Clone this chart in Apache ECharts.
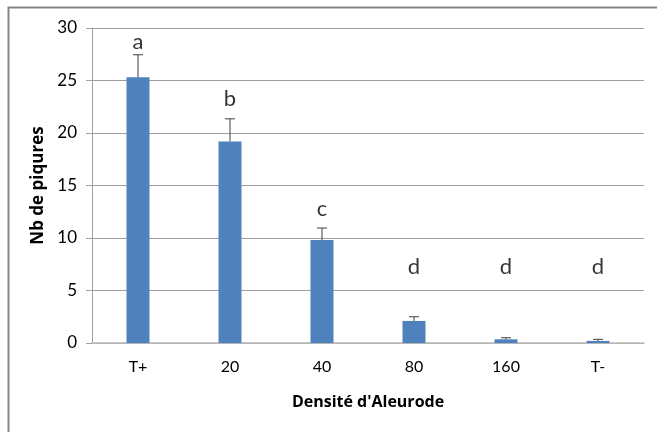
<!DOCTYPE html>
<html>
<head>
<meta charset="utf-8">
<script src="https://cdn.jsdelivr.net/npm/echarts@6/dist/echarts.min.js"></script>
<style>
  html, body { margin: 0; padding: 0; background: #fff; }
  #chart { width: 657px; height: 432px; }
</style>
</head>
<body>
<div id="chart"></div>
<script>
const categories = ['T+', '20', '40', '80', '160', 'T-'];
const meanValues = [25.3, 19.2, 9.8, 2.1, 0.35, 0.2];
const errValues = [2.15, 2.15, 1.15, 0.4, 0.15, 0.15];
const letters = ['a', 'b', 'c', 'd', 'd', 'd'];
const letterPos = [28.7, 23.2, 12.8, 7.2, 7.2, 7.2];
const yTicks = [0, 5, 10, 15, 20, 25, 30];

const chart = echarts.init(document.getElementById('chart'));

const fontFamily = 'Lato, "Open Sans", sans-serif';
const titleFont = '"Open Sans", Lato, sans-serif';

const option = {
  backgroundColor: '#fff',
  animation: false,
  graphic: [{
    type: 'rect',
    left: 6,
    top: 5,
    shape: { width: 720, height: 500 },
    style: { fill: 'none', stroke: '#878787', lineWidth: 2 }
  }],
  grid: {
    left: 92,
    right: 13,
    top: 28,
    bottom: 89
  },
  xAxis: {
    type: 'category',
    data: categories,
    name: "Densité d'Aleurode",
    nameLocation: 'middle',
    nameGap: 51,
    nameTextStyle: { fontFamily: titleFont, fontSize: 16, fontWeight: 'bold', color: '#000' },
    axisLine: { lineStyle: { color: '#bcbcbc', width: 1.5 } },
    axisTick: { show: false },
    axisLabel: { fontFamily, fontSize: 16, color: '#000', margin: 16 }
  },
  yAxis: {
    type: 'value',
    min: 0,
    max: yTicks[yTicks.length - 1],
    interval: 5,
    name: 'Nb de piqures',
    nameLocation: 'middle',
    nameGap: 45,
    nameTextStyle: { fontFamily: titleFont, fontSize: 17, fontWeight: 'bold', color: '#000' },
    axisLine: { show: true, lineStyle: { color: '#a0a0a0' } },
    axisTick: { show: true, length: 6, lineStyle: { color: '#a0a0a0' } },
    axisLabel: { fontFamily, fontSize: 17, color: '#000', margin: 15 },
    splitLine: { lineStyle: { color: '#a0a0a0' } }
  },
  series: [
    {
      type: 'bar',
      data: meanValues,
      barWidth: 23,
      itemStyle: { color: '#4f81bd' },
      z: 2
    },
    {
      type: 'custom',
      z: 3,
      data: meanValues.map((v, i) => [i, v, errValues[i]]),
      renderItem: function (params, api) {
        const x = api.value(0);
        const top = api.coord([x, api.value(1) + api.value(2)]);
        const base = api.coord([x, api.value(1)]);
        const hw = 5;
        return {
          type: 'group',
          children: [
            { type: 'line', shape: { x1: top[0], y1: top[1], x2: base[0], y2: base[1] },
              style: { stroke: '#404040', lineWidth: 1 } },
            { type: 'line', shape: { x1: top[0] - hw, y1: top[1], x2: top[0] + hw, y2: top[1] },
              style: { stroke: '#404040', lineWidth: 1 } }
          ]
        };
      }
    },
    {
      type: 'scatter',
      symbolSize: 0,
      data: letterPos.map((v, i) => [i, v]),
      label: {
        show: true,
        position: 'inside',
        formatter: p => letters[p.dataIndex],
        fontFamily,
        fontSize: 22,
        color: '#000'
      },
      z: 4
    }
  ]
};

chart.setOption(option);
</script>
</body>
</html>
